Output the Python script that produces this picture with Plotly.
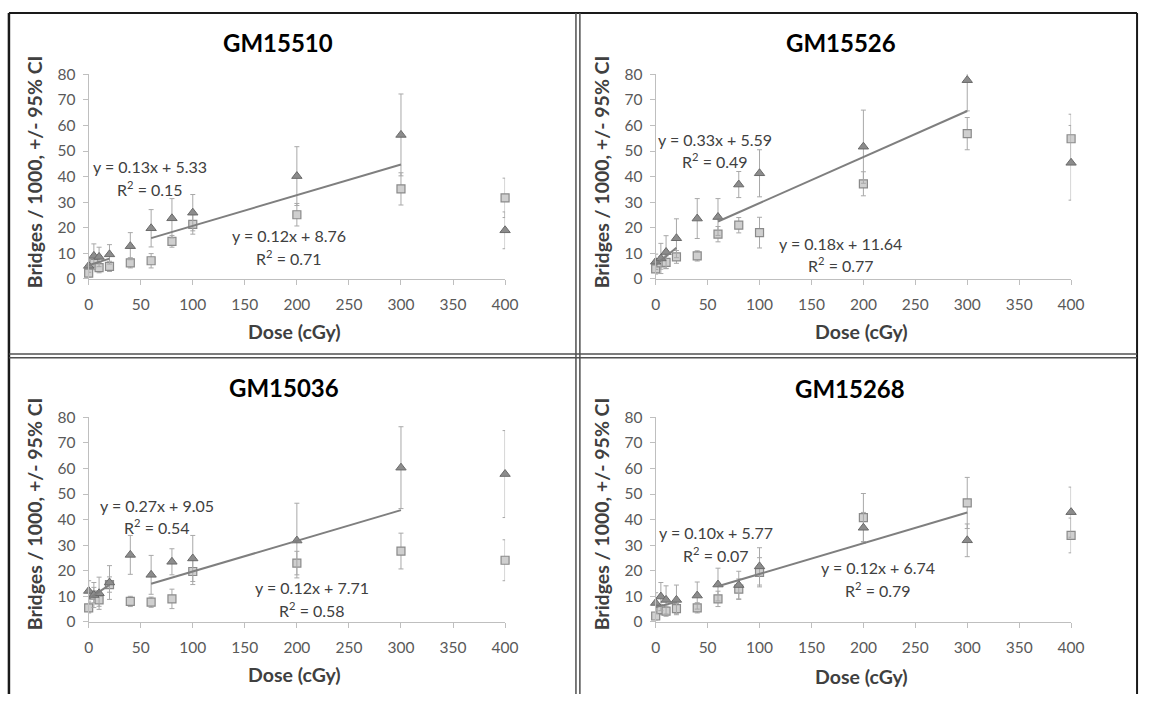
import plotly.graph_objects as go

W, H = 1153, 702

doses = [0, 5, 10, 20, 40, 60, 80, 100, 200, 300, 400]
cell_lines = ["GM15510", "GM15526", "GM15036", "GM15268"]

tri_gm15510 = [5.1, 9.0, 8.6, 9.6, 12.8, 19.8, 23.7, 25.9, 40.2, 56.3, 19.0]
tri_ci_gm15510 = [2.5, 4.7, 3.8, 3.8, 5.3, 7.3, 7.7, 7.1, 11.5, 16.0, 7.2]
sq_gm15510 = [2.3, 6.1, 4.4, 4.9, 6.3, 7.1, 14.7, 21.3, 25.1, 35.2, 31.7]
sq_ci_gm15510 = [1.5, 2.5, 2.0, 2.0, 2.0, 2.8, 2.3, 3.8, 4.4, 6.3, 7.7]

tri_gm15526 = [6.7, 8.0, 10.5, 15.9, 23.6, 24.2, 36.9, 41.3, 51.7, 77.7, 45.4]
tri_ci_gm15526 = [3.0, 5.9, 6.4, 7.6, 7.8, 7.2, 5.1, 9.2, 14.3, 12.0, 14.6]
sq_gm15526 = [3.9, 6.3, 6.5, 8.6, 9.0, 17.5, 21.0, 18.1, 37.2, 56.8, 54.8]
sq_ci_gm15526 = [2.0, 2.5, 2.5, 2.5, 2.0, 3.0, 3.0, 6.0, 4.7, 6.3, 9.6]

tri_gm15036 = [12.1, 10.5, 11.2, 15.4, 26.2, 18.4, 23.5, 24.8, 31.8, 60.3, 57.8]
tri_ci_gm15036 = [4.0, 4.9, 6.3, 6.6, 7.6, 7.6, 5.1, 9.0, 14.6, 16.0, 17.0]
sq_gm15036 = [5.5, 10.5, 8.6, 14.6, 8.0, 7.7, 9.0, 19.7, 23.0, 27.7, 24.1]
sq_ci_gm15036 = [2.0, 3.0, 2.5, 3.0, 2.0, 2.0, 3.8, 5.1, 4.6, 7.0, 8.0]

tri_gm15268 = [7.4, 9.9, 8.6, 8.6, 10.3, 14.6, 14.4, 21.7, 36.8, 31.9, 42.9]
tri_ci_gm15268 = [4.0, 5.5, 5.5, 5.8, 5.3, 6.4, 5.4, 7.3, 6.0, 6.4, 9.8]
sq_gm15268 = [2.3, 4.8, 4.2, 5.2, 5.5, 9.0, 12.8, 19.4, 40.8, 46.5, 33.8]
sq_ci_gm15268 = [1.5, 2.0, 2.0, 2.0, 2.0, 3.0, 4.0, 5.7, 9.4, 10.0, 6.8]

tri_series = [tri_gm15510, tri_gm15526, tri_gm15036, tri_gm15268]
tri_cis = [tri_ci_gm15510, tri_ci_gm15526, tri_ci_gm15036, tri_ci_gm15268]
sq_series = [sq_gm15510, sq_gm15526, sq_gm15036, sq_gm15268]
sq_cis = [sq_ci_gm15510, sq_ci_gm15526, sq_ci_gm15036, sq_ci_gm15268]

# trend fits: low-dose (0-20) and high-dose (60-300)
low_slope = [0.13, 0.33, 0.27, 0.10]
low_icpt = [5.33, 5.59, 9.05, 5.77]
low_r2 = [0.15, 0.49, 0.54, 0.07]
high_slope = [0.12, 0.18, 0.12, 0.12]
high_icpt = [8.76, 11.64, 7.71, 6.74]
high_r2 = [0.71, 0.77, 0.58, 0.79]
low_range = [0, 20]
high_range = [60, 300]

# equation label positions in data coords (x, y of equation line)
low_lbl = [(58.6, 43.8), (57.5, 54.6), (65.2, 45.7), (58.5, 34.8)]
high_lbl = [(192, 16.8), (178, 14.0), (215, 13.4), (214, 21.1)]

# pixel layout of each panel: x0 px, x400 px, y0 px, y80 px
panels_px = [(85, 508, 276, 66), (661, 1083, 276, 66),
             (85, 508, 628, 418), (661, 1083, 628, 418)]
title_px = [(277, 33), (849, 33), (283, 387), (858, 388)]
xtitle_px = [(294, 330), (870, 330), (294, 682), (870, 684)]
ytitle_px = [(30, 166), (606, 166), (30, 517), (606, 517)]

FONT = "Lato, 'Open Sans', sans-serif"
TXT = "#404040"
TICK = "#595959"

def px(x):
    return x / W

def py(y):
    return 1 - y / H

fig = go.Figure()
annotations = []

for i in range(4):
    ax = "" if i == 0 else str(i + 1)
    xa, ya = "x" + ax, "y" + ax
    x0, x1, y0, y1 = panels_px[i]
    fig.update_layout(**{
        "xaxis" + ax: dict(domain=[px(x0), px(x1)], range=[0, 400], anchor=ya,
                           tickmode="array", tickvals=list(range(0, 401, 50)),
                           showgrid=False, zeroline=False, showline=True,
                           linecolor="#bfbfbf", linewidth=1.3, ticks="outside",
                           ticklen=5, tickcolor="#bfbfbf", ticklabelstandoff=6,
                           tickfont=dict(family=FONT, size=15.5, color=TICK)),
        "yaxis" + ax: dict(domain=[py(y0), py(y1)], range=[0, 80], anchor=xa,
                           tickmode="array", tickvals=list(range(0, 81, 10)),
                           showgrid=False, zeroline=False, showline=True,
                           linecolor="#bfbfbf", linewidth=1.3, ticks="outside",
                           ticklen=5, tickcolor="#bfbfbf", ticklabelstandoff=4,
                           tickfont=dict(family=FONT, size=15.5, color=TICK)),
    })

    fig.add_trace(go.Scatter(
        x=doses, y=sq_series[i], mode="markers", xaxis=xa, yaxis=ya,
        cliponaxis=False, showlegend=False,
        marker=dict(symbol="square", size=8, color="#cfcfcf",
                    line=dict(color="#8a8a8a", width=1.2)),
        error_y=dict(type="data", array=sq_cis[i], visible=True,
                     color="#a8a8a8", thickness=1, width=2.5)))
    fig.add_trace(go.Scatter(
        x=doses, y=tri_series[i], mode="markers", xaxis=xa, yaxis=ya,
        cliponaxis=False, showlegend=False,
        marker=dict(symbol="triangle-up", size=9, color="#8c8c8c",
                    line=dict(color="#6a6a6a", width=1)),
        error_y=dict(type="data", array=tri_cis[i], visible=True,
                     color="#a8a8a8", thickness=1, width=2.5)))

    lx = low_range
    fig.add_trace(go.Scatter(
        x=lx, y=[low_slope[i] * v + low_icpt[i] for v in lx], mode="lines",
        xaxis=xa, yaxis=ya, showlegend=False, cliponaxis=False,
        line=dict(color="#7f7f7f", width=2)))
    hx = high_range
    fig.add_trace(go.Scatter(
        x=hx, y=[high_slope[i] * v + high_icpt[i] for v in hx], mode="lines",
        xaxis=xa, yaxis=ya, showlegend=False, cliponaxis=False,
        line=dict(color="#7f7f7f", width=2)))

    def eq(m, b):
        return f"y = {m:.2f}x + {b:.2f}"

    for (lbx, lby), m, b, r2 in [(low_lbl[i], low_slope[i], low_icpt[i], low_r2[i]),
                                  (high_lbl[i], high_slope[i], high_icpt[i], high_r2[i])]:
        annotations.append(dict(x=lbx, y=lby, xref=xa, yref=ya, text=eq(m, b),
                                showarrow=False, xanchor="center", yanchor="middle",
                                font=dict(family=FONT, size=16, color=TXT)))
        annotations.append(dict(x=lbx, y=lby - 8.4, xref=xa, yref=ya,
                                text=f"R<sup>2</sup> = {r2:.2f}",
                                showarrow=False, xanchor="center", yanchor="middle",
                                font=dict(family=FONT, size=16, color=TXT)))

    tx, ty = title_px[i]
    annotations.append(dict(x=px(tx), y=py(ty), xref="paper", yref="paper",
                            text=f"<b>{cell_lines[i]}</b>", showarrow=False,
                            xanchor="center", yanchor="middle",
                            font=dict(family=FONT, size=24, color="#000000")))
    tx, ty = xtitle_px[i]
    annotations.append(dict(x=px(tx), y=py(ty), xref="paper", yref="paper",
                            text="<b>Dose (cGy)</b>", showarrow=False,
                            xanchor="center", yanchor="middle",
                            font=dict(family=FONT, size=19.5, color=TXT)))
    tx, ty = ytitle_px[i]
    annotations.append(dict(x=px(tx), y=py(ty), xref="paper", yref="paper",
                            text="<b>Bridges / 1000, +/- 95% CI</b>", showarrow=False,
                            textangle=-90, xanchor="center", yanchor="middle",
                            font=dict(family=FONT, size=19.5, color=TXT)))

# table borders
shapes = []
def line(x0, y0, x1, y1, color, width):
    shapes.append(dict(type="line", xref="paper", yref="paper",
                       x0=px(x0), y0=py(y0), x1=px(x1), y1=py(y1),
                       line=dict(color=color, width=width)))

line(4, 3, 1150, 3, "#1a1a1a", 2)
line(4, 3, 4, 702, "#1a1a1a", 2.5)
line(1150, 3, 1150, 702, "#1a1a1a", 2)
for xv in (580, 584):
    line(xv, 3, xv, 702, "#505050", 1.5)
for yv in (353, 357):
    line(4, yv, 1150, yv, "#505050", 1.5)

fig.update_layout(width=W, height=H, margin=dict(l=0, r=0, t=0, b=0),
                  paper_bgcolor="white", plot_bgcolor="white",
                  annotations=annotations, shapes=shapes)

fig.write_html("out.html")
